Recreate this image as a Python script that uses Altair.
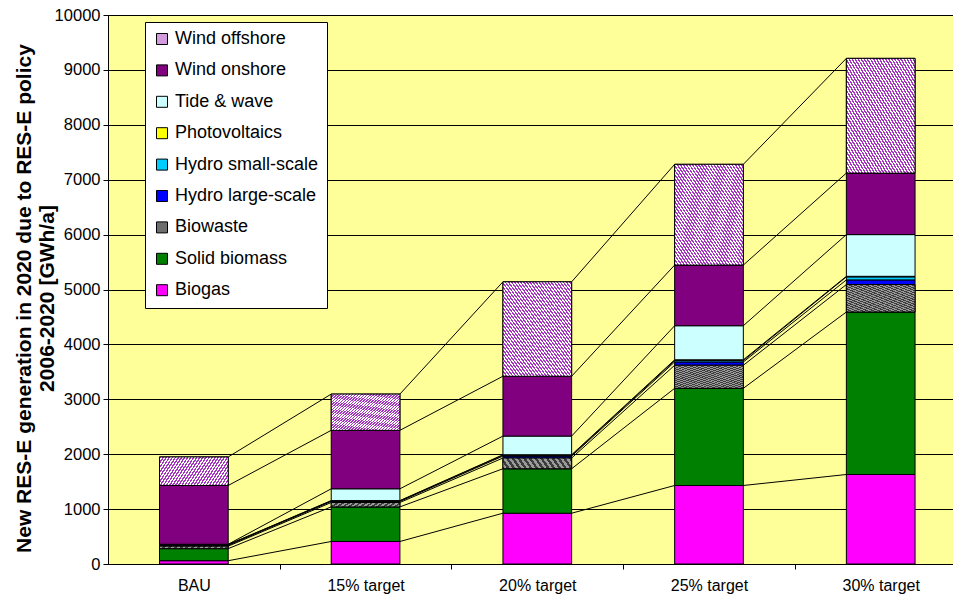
import altair as alt
import pandas as pd

# Scenario categories along the x axis
categories = ["BAU", "15% target", "20% target", "25% target", "30% target"]

# Technologies, listed from the bottom of each stack upwards
series_names = [
    "Biogas",
    "Solid biomass",
    "Biowaste",
    "Hydro large-scale",
    "Hydro small-scale",
    "Photovoltaics",
    "Tide & wave",
    "Wind onshore",
    "Wind offshore",
]

# New RES-E generation in 2020 [GWh/a] per technology and scenario
biogas = [60, 410, 925, 1430, 1630]
solid_biomass = [220, 630, 810, 1770, 2960]
biowaste = [45, 80, 195, 420, 500]
hydro_large = [15, 20, 35, 60, 85]
hydro_small = [10, 10, 15, 25, 55]
photovoltaics = [5, 5, 10, 15, 10]
tide_wave = [5, 215, 340, 620, 760]
wind_onshore = [1070, 1065, 1090, 1105, 1120]
wind_offshore = [520, 660, 1720, 1835, 2090]

series_values = [
    biogas, solid_biomass, biowaste, hydro_large, hydro_small,
    photovoltaics, tide_wave, wind_onshore, wind_offshore,
]

series_colors = [
    "#ff00ff",  # Biogas
    "#008000",  # Solid biomass
    "#6e6e6e",  # Biowaste (hatched grey)
    "#0000ff",  # Hydro large-scale
    "#00ccff",  # Hydro small-scale
    "#ffff00",  # Photovoltaics
    "#ccffff",  # Tide & wave
    "#800080",  # Wind onshore
    "#d49ade",  # Wind offshore (hatched lilac)
]

HALF = 0.2  # half bar width in category units

# Stacked segments
rows = []
tops = {s: [] for s in series_names}
for i, cat in enumerate(categories):
    base = 0
    for s, vals in zip(series_names, series_values):
        v = vals[i]
        rows.append(dict(cat=cat, series=s, value=v, y0=base, y1=base + v,
                         xl=i - HALF, xr=i + HALF))
        base += v
        tops[s].append(base)
bars = pd.DataFrame(rows)

# Series lines joining the top of each segment to the same segment in the next bar
links = []
for s in series_names:
    t = tops[s]
    for i in range(len(categories) - 1):
        links.append(dict(series=s, xa=i + HALF, xb=i + 1 - HALF, ya=t[i], yb=t[i + 1]))
links = pd.DataFrame(links)


def hatch(dark, light, n=30):
    """Striped linear gradient used as a hatch fill."""
    stops = []
    for k in range(n):
        a, m, b = k / n, (k + 0.5) / n, (k + 1) / n
        stops += [
            {"offset": a, "color": dark},
            {"offset": m, "color": dark},
            {"offset": m, "color": light},
            {"offset": b, "color": light},
        ]
    return {"gradient": "linear", "x1": 0, "y1": 1, "x2": 1, "y2": 0, "stops": stops}


FONT = "Liberation Sans"

x_scale = alt.Scale(domain=[-0.5, 4.421], nice=False, zero=False)
y_scale = alt.Scale(domain=[0, 10000], nice=False, zero=True)

label_js = "[" + ",".join("'" + c + "'" for c in categories) + "]"
x_axis = alt.Axis(
    values=[0, 0.5, 1, 1.5, 2, 2.5, 3, 3.5, 4],
    labelExpr="datum.value % 1 === 0 ? " + label_js + "[datum.value] : ''",
    tickOpacity={"condition": {"test": "datum.value % 1 === 0", "value": 0}, "value": 1},
    grid=False,
    title=None,
    domainColor="black",
    tickColor="black",
    tickSize=5,
    labelPadding=8,
    labelFont=FONT,
    labelFontSize=16,
    labelColor="black",
    labelOverlap=False,
)

y_axis = alt.Axis(
    values=list(range(0, 10001, 1000)),
    format="d",
    grid=True,
    gridColor="black",
    gridWidth=1,
    domainColor="black",
    tickColor="black",
    tickSize=5,
    labelPadding=3,
    labelFont=FONT,
    labelFontSize=16.5,
    labelColor="black",
    title=["New RES-E generation in 2020 due to RES-E policy", "2006-2020 [GWh/a]"],
    titleFont=FONT,
    titleFontSize=21,
    titleFontWeight="bold",
    titleColor="black",
    titleLineHeight=23,
    titlePadding=-3,
    titleY=283,
)

legend = alt.Legend(
    title=None,
    orient="none",
    legendX=37,
    legendY=7,
    fillColor="white",
    strokeColor="black",
    padding=8,
    symbolType="square",
    symbolSize=121,
    symbolStrokeColor="black",
    symbolStrokeWidth=1,
    labelFont=FONT,
    labelFontSize=18,
    labelColor="black",
    labelOffset=4,
    rowPadding=13.4,
    labelLimit=300,
)

bar_layer = alt.Chart(bars).mark_rect(stroke="black", strokeWidth=1).encode(
    x=alt.X("xl:Q", scale=x_scale, axis=x_axis),
    x2="xr",
    y=alt.Y("y0:Q", scale=y_scale, axis=y_axis),
    y2="y1",
    color=alt.Color(
        "series:N",
        scale=alt.Scale(domain=series_names[::-1], range=series_colors[::-1]),
        legend=legend,
    ),
)

# Hatched overlays for the two patterned series
offshore_layer = alt.Chart(bars).transform_filter(
    alt.datum.series == "Wind offshore"
).mark_rect(fill=hatch("#a535c0", "#ffffff", 45), stroke="black", strokeWidth=1).encode(
    x="xl:Q", x2="xr", y="y0:Q", y2="y1"
)

biowaste_layer = alt.Chart(bars).transform_filter(
    alt.datum.series == "Biowaste"
).mark_rect(fill=hatch("#3c3c3c", "#9a9a9a", 24), stroke="black", strokeWidth=1).encode(
    x="xl:Q", x2="xr", y="y0:Q", y2="y1"
)

link_layer = alt.Chart(links).mark_rule(color="black", strokeWidth=1).encode(
    x="xa:Q", x2="xb", y="ya:Q", y2="yb"
)

chart = (
    alt.layer(bar_layer, offshore_layer, biowaste_layer, link_layer)
    .properties(
        width=845,
        height=549,
        autosize="none",
        padding={"left": 108, "top": 15, "right": 0, "bottom": 35},
        background="white",
    )
    .configure_view(fill="#ffff99", stroke="#808080", strokeWidth=1)
)

chart.save("out.html", embed_options={"renderer": "svg", "actions": False})
